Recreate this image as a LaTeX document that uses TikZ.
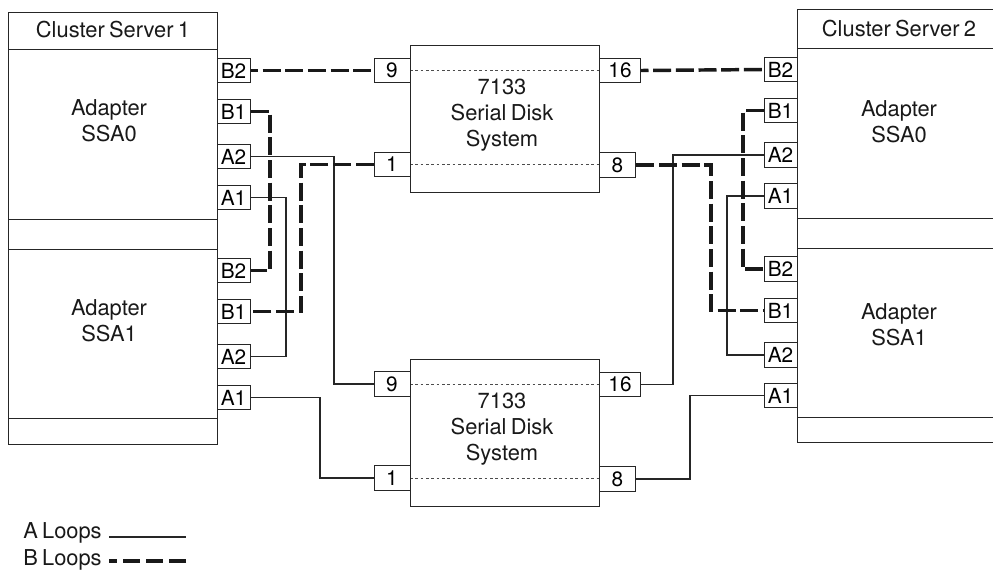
\documentclass[tikz,border=0pt]{standalone}
\usepackage{fontspec}
\setmainfont[WordSpace=0.7]{TeX Gyre Heros}
\usetikzlibrary{calc}

\begin{document}
\begin{tikzpicture}[x=0.75pt, y=-0.75pt,
  aloop/.style={line width=0.95pt, black!85},
  bloop/.style={line width=2.6pt, black!90, dash pattern=on 13.5pt off 3.5pt},
  keyline/.style={line width=2.6pt, black!90, dash pattern=on 12.8pt off 4.5pt},
  frame/.style={line width=0.75pt, black!85},
  inner/.style={line width=0.4pt, black!70, dash pattern=on 2pt off 2pt},
  port/.style={draw=black!85, line width=0.75pt, fill=white, inner sep=0pt, minimum width=24.75pt, minimum height=18.5pt, font=\fontsize{15.6}{17}\selectfont},
  label/.style={align=center, black!90, font=\fontsize{16.4}{19.5}\selectfont}]
  \useasboundingbox (0,0) rectangle (993,571);

  % cluster server 1
  \draw[frame] (8,12) rectangle (217,49);
  \draw[frame] (8,49) rectangle (217,219);
  \draw[frame] (8,219) rectangle (217,249);
  \draw[frame] (8,249) rectangle (217,418);
  \draw[frame] (8,418) rectangle (217,444);
  \node[label] (titleL) at (113,30) {Cluster Server 1};
  \node[label] (ssa0L) at (109,121) {Adapter\\SSA0};
  \node[label] (ssa1L) at (109,321) {Adapter\\SSA1};

  % cluster server 2
  \draw[frame] (797,9) -- (993,9);
  \draw[frame] (797,9) -- (797,442) -- (993,442);
  \draw[frame] (797,48) -- (993,48);
  \draw[frame] (797,218) -- (993,218);
  \draw[frame] (797,248) -- (993,248);
  \draw[frame] (797,417) -- (993,417);
  \node[label] (titleR) at (899,29) {Cluster Server 2};
  \node[label] (ssa0R) at (899,122) {Adapter\\SSA0};
  \node[label] (ssa1R) at (899,325) {Adapter\\SSA1};

  % disk systems
  \draw[frame] (410,45) rectangle (599,192);
  \draw[frame] (410,359) rectangle (599,506);
  \draw[inner] (410,70) -- (599,70);
  \draw[inner] (410,164) -- (599,164);
  \draw[inner] (410,384) -- (599,384);
  \draw[inner] (410,478) -- (599,478);
  \node[label] (diskT) at (502,115) {7133\\Serial Disk\\System};
  \node[label] (diskB) at (502,429) {7133\\Serial Disk\\System};

  % ports, left server
  \foreach \name/\txt/\y in {lB2a/B2/70.5, lB1a/B1/111.5, lA2a/A2/156.5, lA1a/A1/197.5,
                             lB2b/B2/270.5, lB1b/B1/311.5, lA2b/A2/356.5, lA1b/A1/397.5}
    \node[port] (\name) at (233.5,\y) {\txt};
  % ports, right server
  \foreach \name/\txt/\y in {rB2a/B2/69.5, rB1a/B1/110.5, rA2a/A2/155, rA1a/A1/196,
                             rB2b/B2/269, rB1b/B1/310.5, rA2b/A2/355, rA1b/A1/395.5}
    \node[port] (\name) at (780.5,\y) {\txt};
  % ports, disk systems
  \node[port, minimum width=27pt] (tNine) at (392,70.5) {9};
  \node[port, minimum width=27pt] (tOne) at (392,164.5) {1};
  \node[port, minimum width=31pt] (tSixteen) at (620,70.5) {16};
  \node[port, minimum width=27.5pt] (tEight) at (617.5,165) {8};
  \node[port, minimum width=27pt] (bNine) at (392,384) {9};
  \node[port, minimum width=27pt] (bOne) at (392,478) {1};
  \node[port, minimum width=31pt] (bSixteen) at (620,384.5) {16};
  \node[port, minimum width=27.5pt] (bEight) at (617.5,479) {8};

  % riser positions
  \coordinate (x1) at (270,0);
  \coordinate (x2) at (286,0);
  \coordinate (x3) at (301,0);
  \coordinate (x4) at (320,0);
  \coordinate (x5) at (334,0);
  \coordinate (x6) at (673,0);
  \coordinate (x7) at (690,0);
  \coordinate (x8) at (711,0);
  \coordinate (x9) at (727,0);
  \coordinate (x10) at (743,0);

  % A loops
  \foreach \a/\r/\b in {lA2a/x5/bNine, lA1a/x2/lA2b, lA1b/x4/bOne, rA2a/x6/bSixteen, rA1a/x9/rA2b, rA1b/x7/bEight}
    \draw[aloop] (\a) -- (\a -| \r) -- (\b -| \r) -- (\b);

  % B loops
  \draw[bloop, dash phase=8pt] (lB2a.east) -- (tNine.west);
  \draw[bloop, dash phase=8pt] (tSixteen.east) -- (rB2a.west);
  \draw[bloop] (lB1a.east) -- (lB1a -| x1) -- (lB2b -| x1) -- (lB2b.east);
  \draw[bloop] (tOne.west) -- (tOne -| x3) -- (lB1b -| x3) -- (lB1b.east);
  \draw[bloop] (rB1a.west) -- (rB1a -| x10) -- (rB2b -| x10) -- (rB2b.west);
  \draw[bloop] (tEight.east) -- (tEight -| x8) -- (rB1b -| x8) -- (rB1b.west);

  % legend
  \coordinate (aEnd) at (186,537);
  \coordinate (bEnd) at (186,561);
  \node[label, anchor=west, inner sep=0pt] (aText) at (23,533) {A Loops};
  \node[label, anchor=west, inner sep=0pt] (bText) at (23,560) {B Loops};
  \coordinate (aStart) at (109,537);
  \coordinate (bStart) at (109,561);
  \draw[aloop] (aStart) -- (aEnd);
  \draw[keyline] (bEnd) -- (bStart);
\end{tikzpicture}
\end{document}
